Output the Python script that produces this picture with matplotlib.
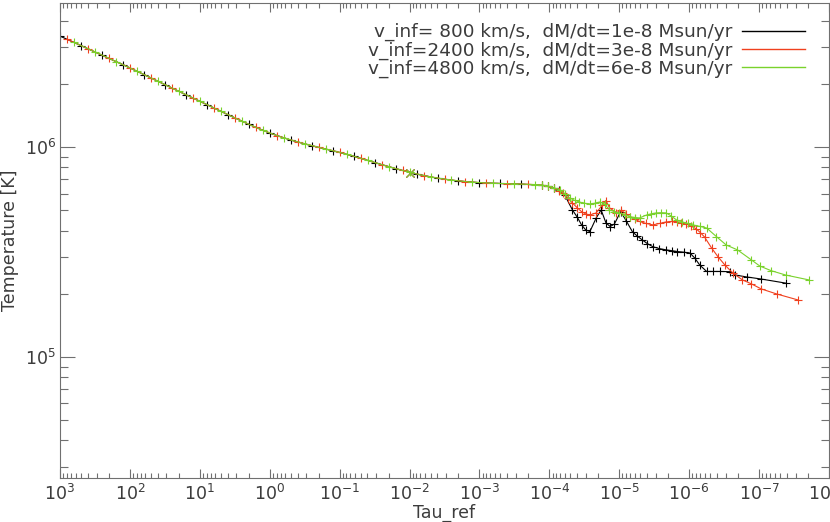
import matplotlib
matplotlib.use('Agg')
import matplotlib.pyplot as plt
from matplotlib.ticker import LogLocator, LogFormatterMathtext, NullFormatter

# log10(tau), log10(T) where the three models coincide (deep part)
logtau_inner = [3.0, 2.9, 2.8, 2.7, 2.6, 2.5, 2.4, 2.3, 2.2, 2.1,
                2.0, 1.9, 1.8, 1.7, 1.6, 1.5, 1.4, 1.3, 1.2, 1.1,
                1.0, 0.9, 0.8, 0.7, 0.6, 0.5, 0.4, 0.3, 0.2, 0.1,
                0.0, -0.1, -0.2, -0.3, -0.4, -0.5, -0.6, -0.7, -0.8, -0.9,
                -1.0, -1.1, -1.2, -1.3, -1.4, -1.5, -1.6, -1.7, -1.8, -1.9,
                -2.0, -2.1, -2.2, -2.3, -2.4, -2.5, -2.6, -2.7, -2.8, -2.9,
                -3.0, -3.1, -3.2, -3.3, -3.4, -3.5, -3.6, -3.7, -3.8]
logT_inner = [6.528, 6.513, 6.498, 6.483, 6.468, 6.453, 6.437, 6.422, 6.407, 6.392,
              6.377, 6.361, 6.345, 6.329, 6.313, 6.297, 6.281, 6.265, 6.249, 6.233,
              6.218, 6.202, 6.186, 6.170, 6.154, 6.139, 6.123, 6.108, 6.093, 6.079,
              6.066, 6.054, 6.043, 6.033, 6.024, 6.015, 6.006, 5.998, 5.990, 5.982,
              5.975, 5.966, 5.956, 5.946, 5.936, 5.926, 5.916, 5.906, 5.897, 5.888,
              5.879, 5.871, 5.864, 5.857, 5.851, 5.846, 5.842, 5.838, 5.835, 5.832,
              5.830, 5.828, 5.827, 5.826, 5.825, 5.824, 5.823, 5.822, 5.821]

# outer parts, one per model
logtau_1 = [-3.90, -3.98, -4.06, -4.14, -4.22, -4.33, -4.40, -4.46, -4.52, -4.58,
            -4.67, -4.74, -4.81, -4.87, -4.93, -5.02, -5.10, -5.19, -5.26, -5.33,
            -5.40, -5.48, -5.57, -5.67, -5.75, -5.83, -5.92, -6.01, -6.08, -6.15,
            -6.25, -6.34, -6.44, -6.58, -6.66, -6.82, -7.03, -7.39]
logT_1 = [5.817, 5.812, 5.805, 5.793, 5.771, 5.700, 5.665, 5.629, 5.605, 5.597,
          5.662, 5.700, 5.638, 5.621, 5.633, 5.692, 5.648, 5.595, 5.575, 5.557,
          5.540, 5.525, 5.516, 5.510, 5.506, 5.502, 5.499, 5.495, 5.471, 5.438,
          5.407, 5.407, 5.407, 5.406, 5.390, 5.381, 5.371, 5.351]

logtau_2 = [-3.90, -3.98, -4.06, -4.14, -4.19, -4.26, -4.33, -4.40, -4.46, -4.52,
            -4.58, -4.67, -4.76, -4.81, -4.86, -4.96, -5.03, -5.09, -5.15, -5.22,
            -5.29, -5.38, -5.48, -5.58, -5.67, -5.75, -5.82, -5.89, -5.96, -6.03,
            -6.10, -6.16, -6.22, -6.32, -6.41, -6.51, -6.62, -6.76, -6.89, -7.03,
            -7.25, -7.56]
logT_2 = [5.818, 5.812, 5.803, 5.790, 5.781, 5.758, 5.733, 5.710, 5.692, 5.681,
          5.676, 5.686, 5.724, 5.745, 5.710, 5.687, 5.698, 5.683, 5.668, 5.656,
          5.645, 5.636, 5.629, 5.636, 5.643, 5.645, 5.644, 5.640, 5.633, 5.623,
          5.610, 5.592, 5.571, 5.519, 5.478, 5.438, 5.401, 5.367, 5.348, 5.324,
          5.300, 5.271]

logtau_3 = [-3.90, -3.98, -4.06, -4.15, -4.22, -4.29, -4.36, -4.43, -4.50, -4.58,
            -4.65, -4.72, -4.79, -4.86, -4.93, -5.00, -5.08, -5.15, -5.22, -5.29,
            -5.39, -5.46, -5.53, -5.60, -5.67, -5.74, -5.82, -5.90, -5.98, -6.05,
            -6.15, -6.25, -6.39, -6.53, -6.69, -6.89, -7.01, -7.17, -7.38, -7.71]
logT_3 = [5.818, 5.813, 5.806, 5.795, 5.778, 5.757, 5.746, 5.738, 5.732, 5.729,
          5.732, 5.738, 5.728, 5.700, 5.692, 5.686, 5.677, 5.668, 5.664, 5.662,
          5.676, 5.682, 5.686, 5.687, 5.686, 5.672, 5.652, 5.643, 5.636, 5.629,
          5.622, 5.614, 5.573, 5.533, 5.510, 5.462, 5.433, 5.411, 5.390, 5.367]

# tau = 1e-2 reference point (drawn as X)
logtau_mark = -2.0
logT_mark = 5.877

labels = ["v_inf= 800 km/s,  dM/dt=1e-8 Msun/yr",
          "v_inf=2400 km/s,  dM/dt=3e-8 Msun/yr",
          "v_inf=4800 km/s,  dM/dt=6e-8 Msun/yr"]
colors = ['#000000', '#f0401e', '#7ad22c']

tails = [(logtau_1, logT_1), (logtau_2, logT_2), (logtau_3, logT_3)]

plt.rcParams['font.family'] = ['DejaVu Sans']
plt.rcParams['mathtext.fontset'] = 'dejavusans'
txt = '#3c3c3c'
axc = '#707070'
fs = 12.5

fig = plt.figure(figsize=(8.3, 5.22), dpi=100)
ax = fig.add_axes([60/830, 44/522, 769/830, 475/522])

for i, (lt_tail, lT_tail) in enumerate(tails):
    lt = logtau_inner[i::3] + lt_tail
    lT = logT_inner[i::3] + lT_tail
    tau = [10**v for v in lt]
    temp = [10**v for v in lT]
    ax.plot(tau, temp, color=colors[i], lw=0.8, marker='+', ms=5.5, mew=0.8,
            label=labels[i])
    ax.plot([10**logtau_mark], [10**logT_mark], color=colors[i], marker='x',
            ms=6, mew=0.7, ls='none')

ax.set_xscale('log')
ax.set_yscale('log')
ax.set_xlim(1e3, 1e-8)
ax.set_ylim(2.65e4, 4.85e6)

ax.xaxis.set_major_locator(LogLocator(base=10, numticks=20))
ax.xaxis.set_minor_locator(LogLocator(base=10, subs=range(2, 10), numticks=20))
ax.yaxis.set_major_locator(LogLocator(base=10, numticks=20))
ax.yaxis.set_minor_locator(LogLocator(base=10, subs=range(2, 10), numticks=20))
ax.xaxis.set_major_formatter(LogFormatterMathtext())
ax.yaxis.set_major_formatter(LogFormatterMathtext())
ax.xaxis.set_minor_formatter(NullFormatter())
ax.yaxis.set_minor_formatter(NullFormatter())

ax.tick_params(axis='both', which='both', direction='in', top=True, right=True,
               color=axc, width=0.8, labelcolor=txt, labelsize=fs)
ax.tick_params(axis='x', which='major', length=6.8, pad=4)
ax.tick_params(axis='x', which='minor', length=3.4)
ax.tick_params(axis='y', which='major', length=11, pad=3)
ax.tick_params(axis='y', which='minor', length=5.5)
for s in ax.spines.values():
    s.set_color(axc)
    s.set_linewidth(0.8)

ax.set_xlabel("Tau_ref", fontsize=fs, color=txt, labelpad=0)
ax.set_ylabel("Temperature [K]", fontsize=fs, color=txt, labelpad=4)

leg = ax.legend(loc='upper right', bbox_to_anchor=(0.985, 0.985), frameon=False,
                markerfirst=False, handlelength=3.4, handletextpad=0.5,
                labelspacing=0.0, fontsize=13.3, borderaxespad=0.3)
for line in leg.get_lines():
    line.set_marker('')
    line.set_linewidth(1.0)
for t in leg.get_texts():
    t.set_color(txt)

fig.savefig("out.png", dpi=100)
